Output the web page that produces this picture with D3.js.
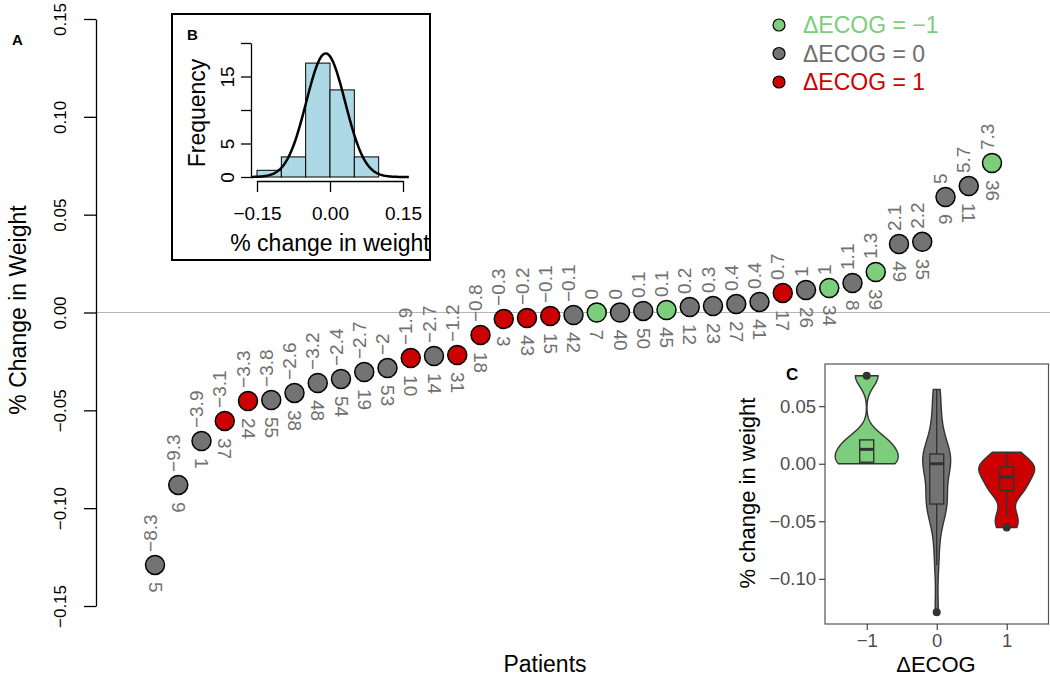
<!DOCTYPE html>
<html>
<head>
<meta charset="utf-8">
<script src="https://cdn.jsdelivr.net/npm/d3@7"></script>
<style>
body{margin:0;background:#fff;}
svg{font-family:"Liberation Sans",Arial,sans-serif;}
</style>
</head>
<body>
<div id="svg-container"></div>
<script>
// patients sorted by % change in weight
var patients = [5,9,1,37,24,55,38,48,54,19,53,10,14,31,18,3,43,15,42,7,40,50,45,12,23,27,41,17,26,34,8,39,49,35,6,11,36];
var kgChange = [-8.3,-9.3,-3.9,-3.1,-3.3,-3.8,-2.6,-3.2,-2.4,-2.7,-2,-1.9,-2.7,-1.2,-0.8,-0.3,-0.2,-0.1,-0.1,0,0,0.1,0.1,0.2,0.3,0.4,0.4,0.7,1,1,1.1,1.3,2.1,2.2,5,5.7,7.3];
var pctChange = [-0.129,-0.0881,-0.0657,-0.0554,-0.0452,-0.0447,-0.0411,-0.036,-0.034,-0.0304,-0.0284,-0.0233,-0.0222,-0.0217,-0.0115,-0.0033,-0.0028,-0.0018,-0.0013,0,0,0.0008,0.0013,0.0028,0.0033,0.0043,0.0054,0.01,0.0115,0.0125,0.0151,0.0207,0.035,0.0361,0.059,0.0646,0.0764];
var ecog = [0,0,0,1,1,0,0,0,0,0,0,1,0,1,1,1,1,1,0,-1,0,0,-1,0,0,0,0,1,0,-1,0,-1,0,0,0,0,-1];

var ecogLevels = [-1,0,1];
var ecogColors = ["#7ccd7c","#737373","#cd0000"];
var legendText = ["#7ccd7c","#6e6e6e","#cd0000"];
var legendLabels = ["\u0394ECOG = \u22121","\u0394ECOG = 0","\u0394ECOG = 1"];

var mainTicks = [-0.15,-0.10,-0.05,0,0.05,0.10,0.15];
var histBreaks = [-0.15,-0.10,-0.05,0,0.05,0.10];
var histXTicks = [-0.15,0,0.15];
var histYTicks = [0,5,10,15,20];
var histYLabels = [0,5,15];
var violinYTicks = [-0.10,-0.05,0,0.05];

var svg = d3.select("#svg-container").append("svg").attr("width",1050).attr("height",679);
var colorOf = d3.scaleOrdinal().domain(ecogLevels).range(ecogColors);
var fmt2 = d3.format(".2f");
var fmtKg = d3.format("");

// ---------- panel A ----------
var x = d3.scaleLinear().domain([1,patients.length]).range([155,992]);
var y = d3.scaleLinear().domain([-0.15,0.15]).range([606,19]);

svg.append("line").attr("x1",96).attr("x2",1050).attr("y1",y(0)).attr("y2",y(0))
  .attr("stroke","#b5b5b5").attr("stroke-width",1);

var yAxis = svg.append("g").attr("transform","translate(96,0)")
  .call(d3.axisLeft(y).tickValues(mainTicks).tickSize(12).tickSizeOuter(0).tickFormat(fmt2));
yAxis.select(".domain").attr("stroke","#000").attr("stroke-width",1.3);
yAxis.selectAll(".tick line").attr("stroke","#000").attr("stroke-width",1.3);
yAxis.selectAll(".tick text").attr("x",0).attr("y",0).attr("dy",null)
  .attr("text-anchor","middle").attr("dominant-baseline","central")
  .attr("transform","translate(-36,0) rotate(-90)")
  .attr("font-size",17).attr("fill","#000");
yAxis.attr("font-family",null);

svg.append("text").attr("transform","translate(18,310) rotate(-90)")
  .attr("text-anchor","middle").attr("dominant-baseline","central")
  .attr("font-size",23).text("% Change in Weight");
svg.append("text").attr("x",545).attr("y",672).attr("text-anchor","middle")
  .attr("font-size",23).text("Patients");
svg.append("text").attr("x",12).attr("y",45).attr("font-size",15).attr("font-weight","bold").text("A");

var pts = svg.append("g");
patients.forEach(function(p,i){
  var cx = x(i+1), cy = y(pctChange[i]);
  pts.append("text").attr("transform","translate("+(cx-5)+","+(cy-13)+") rotate(-90)")
    .attr("text-anchor","start").attr("dominant-baseline","central")
    .attr("font-size",19).attr("fill","#707070").text(fmtKg(kgChange[i]));
  pts.append("text").attr("transform","translate("+cx+","+(cy+17)+") rotate(90)")
    .attr("text-anchor","start").attr("dominant-baseline","central")
    .attr("font-size",19).attr("fill","#707070").text(p);
  pts.append("circle").attr("cx",cx).attr("cy",cy).attr("r",9.5)
    .attr("fill",colorOf(ecog[i])).attr("stroke","#000").attr("stroke-width",1.5);
});

// legend
ecogLevels.forEach(function(l,i){
  var ly = 25 + i*28.5;
  svg.append("circle").attr("cx",779).attr("cy",ly).attr("r",6)
    .attr("fill",ecogColors[i]).attr("stroke","#000").attr("stroke-width",1.2);
  svg.append("text").attr("x",803).attr("y",ly).attr("dominant-baseline","central")
    .attr("font-size",23).attr("fill",legendText[i]).text(legendLabels[i]);
});

// ---------- panel B : histogram ----------
var bx = d3.scaleLinear().domain([-0.15,0.15]).range([257,403]);
var by = d3.scaleLinear().domain([0,20]).range([177,43]);
var gB = svg.append("g");
gB.append("rect").attr("x",172).attr("y",14).attr("width",258).attr("height",246)
  .attr("fill","#fff").attr("stroke","#000").attr("stroke-width",2);

// right-closed bins like R hist
var bins = [];
for (var b=0;b<histBreaks.length-1;b++){
  var lo = histBreaks[b], hi = histBreaks[b+1];
  var c = pctChange.filter(function(v){ return (v>lo || (b===0 && v>=lo)) && v<=hi; }).length;
  bins.push({x0:lo,x1:hi,n:c});
}
gB.selectAll("rect.bar").data(bins).enter().append("rect").attr("class","bar")
  .attr("x",function(d){return bx(d.x0);}).attr("width",function(d){return bx(d.x1)-bx(d.x0);})
  .attr("y",function(d){return by(d.n);}).attr("height",function(d){return by(0)-by(d.n);})
  .attr("fill","#add8e6").attr("stroke","#000").attr("stroke-width",1);

var mu = d3.mean(pctChange), sd = d3.deviation(pctChange), bw = 0.05, nAll = pctChange.length;
var curvePts = d3.range(-0.162,0.1621,0.002).map(function(v){
  var z = (v-mu)/sd;
  return [v, nAll*bw*Math.exp(-0.5*z*z)/(sd*Math.sqrt(2*Math.PI))];
});
gB.append("path").datum(curvePts)
  .attr("d",d3.line().x(function(d){return bx(d[0]);}).y(function(d){return by(d[1]);}))
  .attr("fill","none").attr("stroke","#000").attr("stroke-width",2.5);

var bxAxis = gB.append("g").attr("transform","translate(0,181)")
  .call(d3.axisBottom(bx).tickValues(histXTicks).tickSize(11).tickSizeOuter(0).tickFormat(fmt2));
bxAxis.select(".domain").attr("stroke","#000").attr("stroke-width",1.3);
bxAxis.selectAll(".tick line").attr("stroke","#000").attr("stroke-width",1.3);
bxAxis.selectAll(".tick text").attr("y",26).attr("dy","0.71em").attr("font-size",19).attr("fill","#000");
bxAxis.attr("font-family",null);

var byAxis = gB.append("g").attr("transform","translate(251,0)")
  .call(d3.axisLeft(by).tickValues(histYTicks).tickSize(10).tickSizeOuter(0)
    .tickFormat(function(d){ return histYLabels.indexOf(d)>=0 ? d : ""; }));
byAxis.select(".domain").attr("stroke","#000").attr("stroke-width",1.3);
byAxis.selectAll(".tick line").attr("stroke","#000").attr("stroke-width",1.3);
byAxis.selectAll(".tick text").attr("x",0).attr("y",0).attr("dy",null)
  .attr("text-anchor","middle").attr("dominant-baseline","central")
  .attr("transform","translate(-24,0) rotate(-90)").attr("font-size",19).attr("fill","#000");
byAxis.attr("font-family",null);

gB.append("text").attr("transform","translate(197,113) rotate(-90)")
  .attr("text-anchor","middle").attr("dominant-baseline","central")
  .attr("font-size",23).text("Frequency");
gB.append("text").attr("x",330).attr("y",251).attr("text-anchor","middle")
  .attr("font-size",23).text("% change in weight");
gB.append("text").attr("x",187).attr("y",40).attr("font-size",15).attr("font-weight","bold").text("B");

// ---------- panel C : violins ----------
var ext = d3.extent(pctChange), pad = (ext[1]-ext[0])*0.05;
var vx = d3.scalePoint().domain(ecogLevels).range([866.7,1006.7]);
var vy = d3.scaleLinear().domain([ext[0]-pad, ext[1]+pad]).range([624,364]);
var unit = 70;
var gC = svg.append("g");
gC.append("rect").attr("x",825).attr("y",364).attr("width",223.5).attr("height",260)
  .attr("fill","#fff").attr("stroke","#555").attr("stroke-width",1.2);

function bwNrd0(v){
  var s = v.slice().sort(d3.ascending);
  var sdv = d3.deviation(s), iqr = d3.quantileSorted(s,0.75)-d3.quantileSorted(s,0.25);
  var lo = Math.min(sdv, iqr/1.34);
  if (!(lo>0)) lo = sdv || 1;
  return 0.9*lo*Math.pow(s.length,-0.2);
}
function kde(v,h,t){
  var s=0; v.forEach(function(xi){ var z=(t-xi)/h; s+=Math.exp(-0.5*z*z); });
  return s/(v.length*h*Math.sqrt(2*Math.PI));
}
var groups = ecogLevels.map(function(l){
  var vals = pctChange.filter(function(v,i){ return ecog[i]===l; }).sort(d3.ascending);
  var h = bwNrd0(vals), e = d3.extent(vals);
  var grid = d3.range(0,201).map(function(k){ var t=e[0]+(e[1]-e[0])*k/200; return [t,kde(vals,h,t)]; });
  return {level:l, vals:vals, grid:grid};
});
var dmax = d3.max(groups, function(g){ return d3.max(g.grid,function(d){return d[1];}); });

groups.forEach(function(g){
  var cx = vx(g.level);
  var half = function(d){ return d[1]/dmax*0.45*unit; };
  var pts2 = g.grid.map(function(d){ return [cx-half(d), vy(d[0])]; })
    .concat(g.grid.slice().reverse().map(function(d){ return [cx+half(d), vy(d[0])]; }));
  gC.append("path").attr("d", d3.line()(pts2)+"Z")
    .attr("fill",colorOf(g.level)).attr("stroke","#333").attr("stroke-width",1.4);

  var q1 = d3.quantileSorted(g.vals,0.25), md = d3.quantileSorted(g.vals,0.5), q3 = d3.quantileSorted(g.vals,0.75);
  var iqr = q3-q1;
  var inside = g.vals.filter(function(v){ return v>=q1-1.5*iqr && v<=q3+1.5*iqr; });
  var wLo = d3.min(inside), wHi = d3.max(inside);
  var outl = g.vals.filter(function(v){ return v<q1-1.5*iqr || v>q3+1.5*iqr; });
  var bw2 = 0.2*unit/2;
  gC.append("line").attr("x1",cx).attr("x2",cx).attr("y1",vy(wHi)).attr("y2",vy(q3)).attr("stroke","#333").attr("stroke-width",1.4);
  gC.append("line").attr("x1",cx).attr("x2",cx).attr("y1",vy(q1)).attr("y2",vy(wLo)).attr("stroke","#333").attr("stroke-width",1.4);
  gC.append("rect").attr("x",cx-bw2).attr("width",2*bw2).attr("y",vy(q3)).attr("height",vy(q1)-vy(q3))
    .attr("fill",colorOf(g.level)).attr("stroke","#333").attr("stroke-width",1.4);
  gC.append("line").attr("x1",cx-bw2).attr("x2",cx+bw2).attr("y1",vy(md)).attr("y2",vy(md)).attr("stroke","#333").attr("stroke-width",3);
  outl.forEach(function(v){
    gC.append("circle").attr("cx",cx).attr("cy",vy(v)).attr("r",4).attr("fill","#333");
  });
});

var cyAxis = gC.append("g").attr("transform","translate(825,0)")
  .call(d3.axisLeft(vy).tickValues(violinYTicks).tickSize(6).tickSizeOuter(0).tickFormat(fmt2));
cyAxis.select(".domain").remove();
cyAxis.selectAll(".tick line").attr("stroke","#333").attr("stroke-width",1.1);
cyAxis.selectAll(".tick text").attr("x",-9).attr("font-size",18.5).attr("fill","#4d4d4d");
cyAxis.attr("font-family",null);

var cxAxis = gC.append("g").attr("transform","translate(0,624)")
  .call(d3.axisBottom(vx).tickSize(6).tickSizeOuter(0).tickFormat(function(d){ return d<0 ? "\u2212"+(-d) : d; }));
cxAxis.select(".domain").remove();
cxAxis.selectAll(".tick line").attr("stroke","#333").attr("stroke-width",1.1);
cxAxis.selectAll(".tick text").attr("y",10).attr("font-size",18.5).attr("fill","#4d4d4d");
cxAxis.attr("font-family",null);

gC.append("text").attr("transform","translate(747,493) rotate(-90)")
  .attr("text-anchor","middle").attr("dominant-baseline","central")
  .attr("font-size",22).text("% change in weight");
gC.append("text").attr("x",936).attr("y",672).attr("text-anchor","middle")
  .attr("font-size",22).text("\u0394ECOG");
gC.append("text").attr("x",786).attr("y",380).attr("font-size",17).attr("font-weight","bold").text("C");
</script>
</body>
</html>
